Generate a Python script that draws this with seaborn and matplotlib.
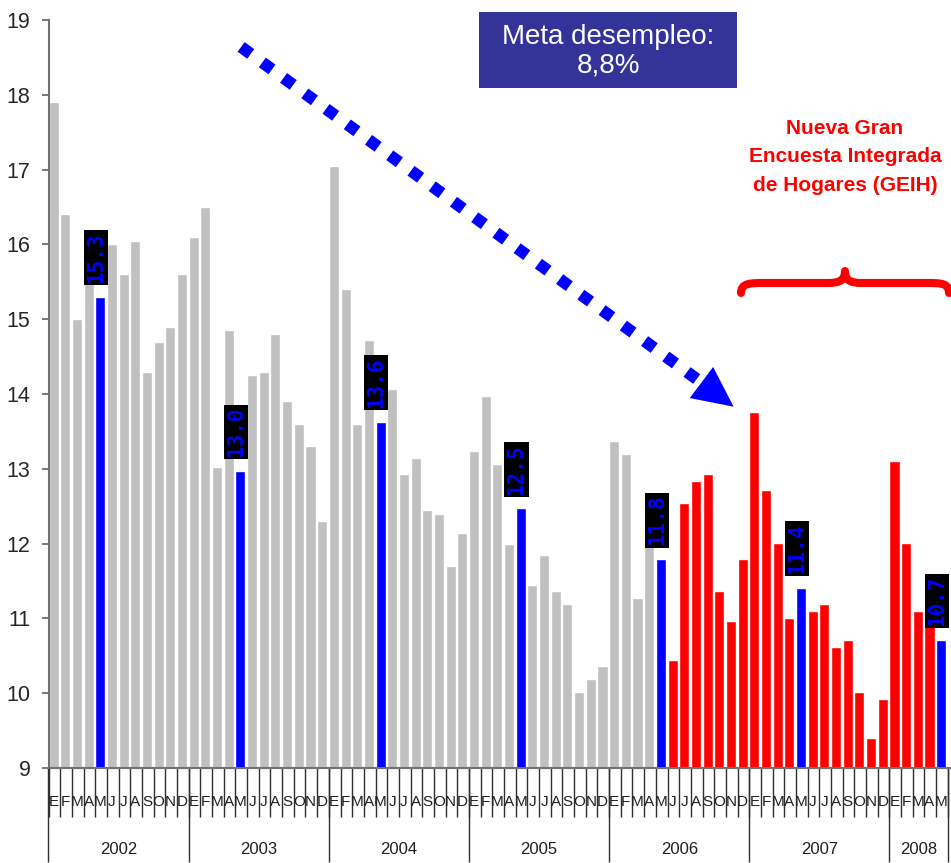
import numpy as np
import pandas as pd
import matplotlib.pyplot as plt
import matplotlib.transforms as mtransforms
import seaborn as sns
from matplotlib.patches import Rectangle, PathPatch
from matplotlib.path import Path

# Tasa de desempleo mensual (%), ene-2002 a may-2008
years = ['2002', '2003', '2004', '2005', '2006', '2007', '2008']
months = ['E', 'F', 'M', 'A', 'M', 'J', 'J', 'A', 'S', 'O', 'N', 'D']
rate_2002 = [17.9, 16.4, 15.0, 15.8, 15.3, 16.0, 15.6, 16.05, 14.3, 14.7, 14.9, 15.6]
rate_2003 = [16.1, 16.5, 13.02, 14.85, 12.97, 14.25, 14.3, 14.8, 13.9, 13.6, 13.3, 12.3]
rate_2004 = [17.05, 15.4, 13.6, 14.72, 13.63, 14.07, 12.93, 13.14, 12.45, 12.4, 11.7, 12.14]
rate_2005 = [13.24, 13.97, 13.06, 12.0, 12.47, 11.45, 11.85, 11.37, 11.19, 10.02, 10.19, 10.36]
rate_2006 = [13.37, 13.2, 11.27, 12.2, 11.79, 10.44, 12.54, 12.84, 12.93, 11.37, 10.97, 11.79]
rate_2007 = [13.76, 12.72, 12.01, 11.01, 11.41, 11.1, 11.19, 10.62, 10.71, 10.02, 9.4, 9.92]
rate_2008 = [13.1, 12.01, 11.1, 11.1, 10.71]

# serie: 'ECH' (encuesta continua), 'GEIH' (nueva encuesta), 'mayo' (mes resaltado)
survey_2006 = ['ECH'] * 4 + ['mayo'] + ['GEIH'] * 7
may_labels = ['15.3', '13.0', '13.6', '12.5', '11.8', '11.4', '10.7']

rates = rate_2002 + rate_2003 + rate_2004 + rate_2005 + rate_2006 + rate_2007 + rate_2008
n_years = [12, 12, 12, 12, 12, 12, 5]
series = []
for y, n in zip(years, n_years):
    if y == '2006':
        series += survey_2006
    elif y in ('2007', '2008'):
        series += ['GEIH' if m != 4 else 'mayo' for m in range(n)]
    else:
        series += ['ECH' if m != 4 else 'mayo' for m in range(n)]

df = pd.DataFrame({
    'idx': np.arange(len(rates)),
    'rate': rates,
    'serie': series,
    'mes': [months[m] for n in n_years for m in range(n)],
})

W, H = 951, 863


def fx(px):
    return px / W


def fy(py):
    return 1 - py / H


sns.set_theme(style='white')
plt.rcParams['font.family'] = ['Liberation Sans', 'DejaVu Sans']

fig = plt.figure(figsize=(9.51, 8.63), dpi=100)
slot = 11.68
left_px = 48.5
ax = fig.add_axes([fx(left_px), 95 / H, (W - left_px) / W, 748 / H])

palette = {'ECH': '#c0c0c0', 'GEIH': '#ff0000', 'mayo': '#0000ff'}
bw = 0.86
sns.barplot(data=df, x='idx', y='rate', hue='serie', palette=palette,
            dodge=False, width=bw, legend=False, saturation=1, ax=ax)

x0 = -bw / 2
ax.set_ylim(9, 19)
ax.set_xlim(x0, x0 + (W - left_px) / slot)
ax.set_yticks(range(9, 20))
ax.set_yticklabels([str(v) for v in range(9, 20)], fontsize=15.5)
ax.tick_params(axis='y', direction='out', length=5, width=1.2, color='#606060', pad=8, left=True)
ax.set_xlabel('')
ax.set_ylabel('')
for s in ['top', 'right']:
    ax.spines[s].set_visible(False)
for s in ['left', 'bottom']:
    ax.spines[s].set_color('#707070')
    ax.spines[s].set_linewidth(1.5)

# separadores de meses
ax.set_xticks([])
ax.set_xticks(np.arange(len(rates) + 1) + x0, minor=True)
ax.set_xticklabels([], minor=True)
ax.tick_params(axis='x', which='minor', length=35, width=1, color='#303030', bottom=True, direction='out')

# separadores de años
bounds = np.concatenate([[0], np.cumsum(n_years)]) + x0
centers = (bounds[:-1] + bounds[1:]) / 2
ax2 = ax.secondary_xaxis('bottom')
ax2.set_xticks(bounds, labels=[''] * len(bounds))
ax2.tick_params(axis='x', which='major', length=68, width=1, color='#303030', direction='out')
ax2.spines['bottom'].set_visible(False)

# textos de meses y años (x en datos, y en pixeles de la figura)
tr = mtransforms.blended_transform_factory(ax.transData, fig.transFigure)
for i, m in zip(df['idx'], df['mes']):
    ax.text(i, fy(802), m, transform=tr, ha='center', va='center', fontsize=11,
            family=['Liberation Sans Narrow', 'Liberation Sans'], color='#202020')
for c, y in zip(centers, years):
    ax.text(c, fy(849), y, transform=tr, ha='center', va='center', fontsize=12, color='#202020')

# etiquetas de mayo
may_df = df[df['serie'] == 'mayo']
for (i, v), lab in zip(zip(may_df['idx'], may_df['rate']), may_labels):
    ax.annotate(lab, xy=(i, v), xytext=(-3, 10), textcoords='offset points',
                rotation=90, ha='center', va='bottom', color='#0000ff',
                fontsize=15, fontweight='bold', family='DejaVu Sans Mono',
                bbox=dict(boxstyle='square,pad=0.1', fc='black', ec='none'))

# flecha punteada
start = (16.06, 18.64)
base = (55.42, 14.16)
tip = (58.23, 13.83)
ax.plot([start[0], base[0]], [start[1], base[1]], color='#0000ff', lw=8.6,
        linestyle=(0, (1.0, 1.2)), dash_capstyle='butt', solid_capstyle='butt', clip_on=False)
ax.annotate('', xy=tip, xytext=base,
            arrowprops=dict(arrowstyle='-|>,head_length=2.9,head_width=1.4', mutation_scale=10,
                            color='#0000ff', lw=0, shrinkA=0, shrinkB=0))

# recuadro meta
fig.patches.append(Rectangle((fx(479), fy(88)), 258 / W, 76 / H,
                             transform=fig.transFigure, fc='#333399', ec='none'))
fig.text(fx(608), fy(51), 'Meta desempleo:\n8,8%', ha='center', va='center',
         color='white', fontsize=20, linespacing=1.1,
         family=['Liberation Sans Narrow', 'Liberation Sans'])

# texto GEIH
fig.text(fx(845), fy(157), 'Nueva Gran\nEncuesta Integrada\nde Hogares (GEIH)',
         ha='center', va='center', color='#ff0000', fontsize=15, fontweight='bold',
         linespacing=1.65)

# llave
pts = [(741, 293), (741, 283), (750, 283), (765, 283), (828, 283),
       (840, 283), (845, 280), (845, 271),
       (845, 280), (850, 283), (862, 283), (926, 283),
       (941, 283), (949, 283), (949, 293)]
codes = [Path.MOVETO, Path.CURVE4, Path.CURVE4, Path.CURVE4, Path.LINETO,
         Path.CURVE4, Path.CURVE4, Path.CURVE4,
         Path.CURVE4, Path.CURVE4, Path.CURVE4, Path.LINETO,
         Path.CURVE4, Path.CURVE4, Path.CURVE4]
brace = Path([(fx(px), fy(py)) for px, py in pts], codes)
fig.patches.append(PathPatch(brace, fill=False, ec='#ff0000', lw=5.8, capstyle='round',
                             joinstyle='round', transform=fig.transFigure))

fig.savefig('out.png', dpi=100)
